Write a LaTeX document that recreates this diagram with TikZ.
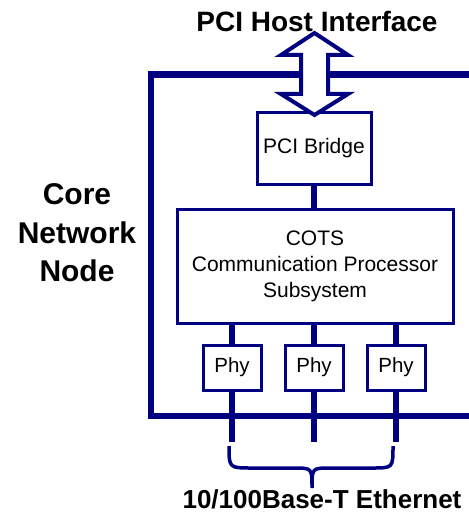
\documentclass[tikz,border=0pt]{standalone}
\usepackage{fontspec}
\setmainfont{Liberation Sans}
\definecolor{navy}{RGB}{0,0,128}
\begin{document}
\begin{tikzpicture}[x=1pt,y=-1pt,
  box/.style={draw=navy, line width=3pt, fill=white, inner sep=0pt, align=center},
  wire/.style={draw=navy, line width=6pt},
  frame/.style={draw=navy, line width=6.5pt},
  title/.style={font=\fontsize{28}{32}\selectfont\bfseries, inner sep=0pt}]
\useasboundingbox (0,0) rectangle (468,513);
% outer frame
\coordinate (ftr) at (470,74.5);
\coordinate (ftl) at (151,74.5);
\coordinate (fbl) at (151,416);
\coordinate (fbr) at (470,416);
\draw[frame] (ftr) -- (ftl) -- (fbl) -- (fbr);
% boxes
\node[box, minimum width=114pt, minimum height=71pt, font=\fontsize{21}{26}\selectfont] (bridge) at (314,148.5) {PCI Bridge};
\node[box, minimum width=276pt, minimum height=114pt, font=\fontsize{21}{26}\selectfont] (cots) at (315,266) {COTS\\Communication Processor\\Subsystem};
\node[box, minimum width=58pt, minimum height=45pt, font=\fontsize{20.5}{24}\selectfont] (phy1) at (232,367.5) {Phy};
\node[box, minimum width=58pt, minimum height=45pt, font=\fontsize{20.5}{24}\selectfont] (phy2) at (314,367.5) {Phy};
\node[box, minimum width=58pt, minimum height=45pt, font=\fontsize{20.5}{24}\selectfont] (phy3) at (396,367.5) {Phy};
% connectors
\draw[wire] (bridge.south) -- (bridge.south |- cots.north);
\draw[wire] (phy1.north |- cots.south) -- (phy1.north);
\draw[wire] (phy2.north |- cots.south) -- (phy2.north);
\draw[wire] (phy3.north |- cots.south) -- (phy3.north);
\coordinate (e1) at (232,442);
\coordinate (e2) at (314,442);
\coordinate (e3) at (396,442);
\draw[wire] (phy1.south) -- (e1);
\draw[wire] (phy2.south) -- (e2);
\draw[wire] (phy3.south) -- (e3);
% double arrow
\draw[draw=navy, line width=4pt, fill=white, line join=miter]
  (314.5,33) -- (348,55) -- (328,55) -- (328,94) -- (348,94) -- (314.5,115)
  -- (281,94) -- (301,94) -- (301,55) -- (281,55) -- cycle;
% brace
\coordinate (bl) at (229,446);
\coordinate (br) at (393,446);
\coordinate (btip) at (312,488);
\draw[navy, line width=3.5pt]
  (bl) .. controls (229,468) .. (252,468) -- (294,468) .. controls (312,468) .. (btip)
  .. controls (312,468) .. (330,468) -- (372,468) .. controls (393,468) .. (br);
% labels
\node[title, anchor=base] (host) at (317,32) {PCI Host Interface};
\node[title, font=\fontsize{30}{38.5}\selectfont\bfseries, align=center] (core) at (77,233) {Core\\Network\\Node};
\node[title, font=\fontsize{26}{30}\selectfont\bfseries, anchor=base] (eth) at (322,508) {10/100Base-T Ethernet};
\end{tikzpicture}
\end{document}
